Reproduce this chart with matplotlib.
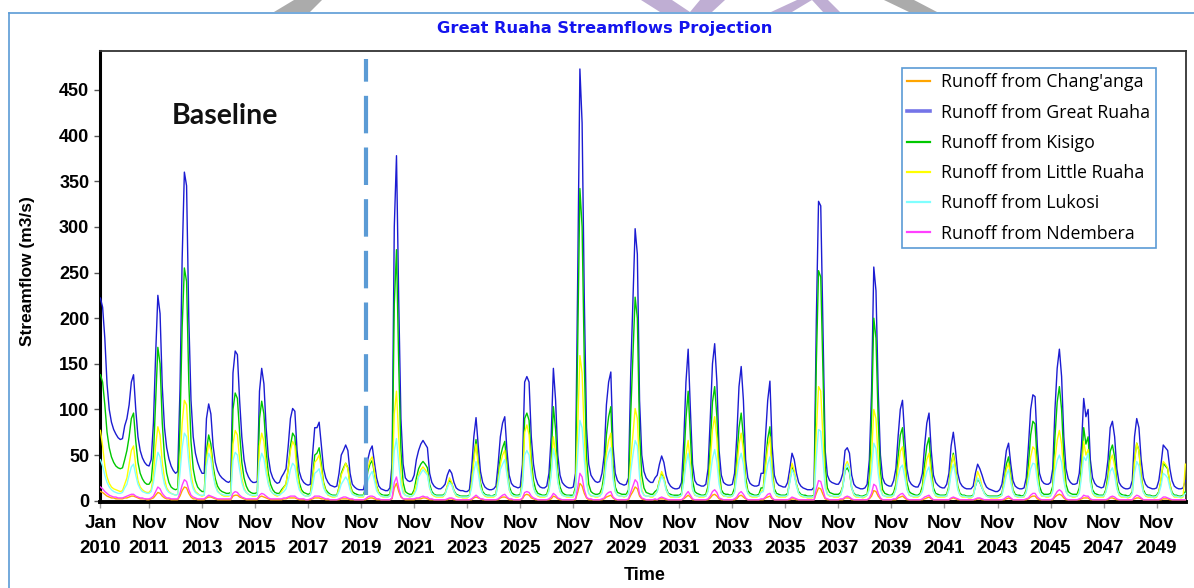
"""
Great Ruaha streamflow projection, monthly runoff per sub-catchment 2010-2050.
"""

import matplotlib
matplotlib.use("Agg")
import matplotlib.pyplot as plt
from matplotlib.patches import Polygon
import numpy as np


# ── Data (m3/s, one row per year, Jan..Dec) ───────────────────────────────────

YEARS = list(range(2010, 2051))

great_ruaha = [
    [222, 212, 178, 128, 100, 86, 78, 73, 69, 67, 68, 82],      # 2010
    [90, 105, 130, 138, 100, 70, 55, 47, 42, 39, 38, 45],
    [85, 160, 225, 205, 125, 80, 58, 46, 38, 33, 30, 32],
    [120, 265, 360, 345, 200, 110, 70, 52, 42, 35, 30, 30],
    [90, 106, 95, 60, 42, 33, 28, 25, 23, 21, 20, 22],
    [140, 164, 160, 110, 70, 45, 32, 26, 22, 20, 20, 21],       # 2015
    [120, 145, 128, 80, 48, 32, 25, 21, 19, 20, 26, 30],
    [35, 60, 90, 101, 98, 55, 32, 24, 20, 18, 17, 18],
    [50, 80, 80, 86, 60, 35, 25, 20, 17, 16, 15, 16],
    [30, 50, 55, 61, 55, 30, 18, 15, 13, 12, 12, 12],
    [22, 45, 55, 60, 42, 25, 16, 13, 12, 11, 11, 14],           # 2020
    [40, 300, 378, 220, 90, 40, 25, 22, 21, 22, 28, 45],
    [55, 62, 66, 62, 58, 30, 20, 16, 14, 13, 13, 15],
    [18, 28, 34, 30, 20, 14, 12, 11, 11, 10, 10, 12],
    [35, 70, 91, 60, 32, 20, 15, 13, 12, 12, 13, 16],
    [40, 70, 85, 92, 55, 28, 19, 16, 15, 14, 15, 40],           # 2025
    [130, 136, 130, 70, 40, 25, 18, 15, 14, 14, 16, 30],
    [70, 145, 110, 50, 28, 20, 17, 15, 14, 14, 15, 30],
    [242, 473, 414, 220, 80, 40, 28, 24, 21, 20, 21, 30],
    [50, 105, 130, 141, 60, 30, 22, 19, 18, 17, 18, 25],
    [140, 220, 298, 270, 110, 50, 32, 25, 22, 20, 20, 25],      # 2030
    [28, 40, 49, 42, 28, 20, 16, 14, 13, 13, 14, 20],
    [65, 130, 166, 100, 40, 22, 18, 17, 16, 16, 18, 35],
    [90, 150, 172, 130, 55, 28, 20, 18, 17, 17, 18, 30],
    [70, 125, 147, 110, 45, 25, 19, 17, 16, 16, 17, 30],
    [30, 70, 110, 131, 60, 28, 20, 17, 16, 15, 15, 20],         # 2035
    [35, 52, 45, 30, 20, 16, 14, 13, 12, 12, 12, 15],
    [198, 328, 323, 187, 55, 28, 22, 20, 19, 18, 18, 22],
    [30, 55, 58, 52, 28, 18, 15, 14, 13, 13, 14, 18],
    [45, 120, 256, 230, 120, 50, 25, 19, 17, 16, 16, 22],
    [35, 70, 100, 110, 70, 35, 22, 18, 16, 15, 15, 20],         # 2040
    [30, 60, 85, 96, 55, 28, 20, 17, 15, 14, 14, 18],
    [30, 60, 75, 55, 30, 20, 16, 14, 13, 13, 13, 16],
    [30, 40, 35, 28, 20, 15, 13, 12, 11, 10, 10, 12],
    [18, 35, 55, 63, 40, 22, 16, 14, 13, 13, 14, 25],
    [60, 100, 116, 114, 60, 30, 22, 19, 18, 18, 20, 35],        # 2045
    [100, 145, 166, 136, 70, 35, 24, 20, 18, 18, 19, 30],
    [60, 112, 92, 100, 45, 25, 19, 16, 15, 14, 15, 25],
    [45, 80, 87, 70, 35, 20, 16, 14, 13, 13, 14, 22],
    [70, 90, 80, 45, 25, 18, 15, 14, 13, 13, 14, 22],
    [40, 61, 58, 55, 35, 22, 16, 14, 13, 13, 14, 22],           # 2050
]

kisigo = [
    [138, 130, 105, 75, 58, 48, 42, 38, 36, 35, 36, 45],
    [55, 70, 90, 96, 65, 42, 30, 24, 20, 18, 18, 22],
    [50, 110, 168, 150, 85, 48, 30, 20, 15, 13, 12, 13],
    [80, 190, 255, 240, 130, 65, 35, 22, 15, 12, 10, 10],
    [55, 72, 62, 38, 24, 16, 12, 10, 9, 8, 8, 9],
    [100, 118, 112, 75, 42, 25, 16, 11, 9, 8, 8, 9],
    [90, 109, 95, 55, 30, 18, 12, 9, 8, 8, 12, 15],
    [18, 35, 60, 74, 70, 38, 20, 12, 9, 8, 7, 8],
    [25, 50, 52, 58, 40, 20, 12, 9, 7, 6, 6, 6],
    [15, 30, 36, 41, 36, 18, 10, 8, 7, 6, 6, 6],
    [14, 32, 40, 44, 30, 16, 9, 7, 6, 6, 6, 7],
    [25, 215, 275, 150, 55, 20, 10, 8, 7, 7, 12, 25],
    [35, 40, 43, 40, 36, 18, 10, 7, 6, 6, 6, 6],
    [8, 16, 22, 19, 11, 7, 6, 5, 5, 5, 5, 6],
    [20, 48, 67, 42, 20, 10, 7, 6, 6, 5, 6, 7],
    [25, 48, 58, 65, 38, 16, 9, 7, 6, 6, 7, 22],
    [90, 96, 88, 45, 22, 12, 8, 7, 6, 6, 7, 15],
    [45, 103, 78, 32, 15, 9, 7, 6, 6, 6, 6, 15],
    [170, 342, 300, 150, 48, 18, 10, 8, 7, 7, 8, 14],
    [30, 72, 92, 103, 40, 15, 9, 8, 7, 7, 7, 12],
    [95, 160, 223, 200, 75, 28, 14, 9, 8, 7, 7, 10],
    [12, 22, 30, 25, 14, 8, 7, 6, 6, 6, 6, 8],
    [40, 90, 120, 70, 22, 10, 8, 7, 6, 6, 7, 16],
    [60, 108, 125, 92, 35, 12, 8, 7, 7, 6, 7, 14],
    [45, 80, 96, 70, 26, 11, 8, 7, 6, 6, 7, 14],
    [14, 42, 68, 81, 36, 13, 8, 7, 6, 6, 6, 8],
    [22, 37, 30, 18, 10, 7, 6, 6, 5, 5, 5, 6],
    [150, 252, 245, 140, 38, 14, 9, 8, 7, 7, 7, 9],
    [16, 33, 36, 31, 14, 8, 6, 6, 5, 5, 6, 7],
    [25, 90, 200, 178, 88, 32, 12, 8, 7, 6, 6, 9],
    [18, 48, 72, 80, 48, 20, 10, 8, 7, 6, 6, 8],
    [16, 40, 60, 69, 36, 14, 8, 7, 6, 6, 6, 7],
    [16, 40, 52, 36, 16, 8, 6, 6, 5, 5, 5, 6],
    [16, 24, 20, 14, 9, 6, 5, 5, 5, 5, 5, 6],
    [8, 22, 40, 48, 28, 12, 7, 6, 6, 5, 6, 12],
    [40, 72, 87, 84, 40, 16, 9, 7, 7, 7, 8, 16],
    [70, 108, 125, 100, 48, 18, 10, 8, 7, 7, 7, 14],
    [38, 80, 62, 70, 28, 12, 8, 7, 6, 6, 6, 12],
    [28, 54, 61, 48, 20, 9, 7, 6, 6, 5, 6, 10],
    [45, 63, 55, 28, 12, 7, 6, 6, 5, 5, 6, 10],
    [22, 41, 38, 35, 18, 9, 6, 6, 5, 5, 6, 10],
]

little_ruaha = [
    [77, 60, 38, 26, 19, 15, 13, 12, 11, 10, 11, 18],
    [25, 40, 55, 60, 38, 22, 15, 12, 10, 9, 9, 12],
    [28, 60, 81, 72, 42, 24, 14, 10, 8, 7, 6, 7],
    [40, 85, 110, 105, 60, 30, 16, 10, 8, 6, 5, 6],
    [45, 63, 55, 32, 18, 11, 8, 6, 5, 5, 5, 6],
    [62, 77, 72, 45, 25, 14, 9, 7, 6, 5, 5, 6],
    [60, 74, 65, 38, 20, 11, 8, 6, 5, 6, 10, 14],
    [18, 35, 55, 65, 60, 30, 15, 9, 6, 5, 5, 6],
    [22, 42, 45, 50, 35, 18, 10, 6, 5, 4, 4, 5],
    [14, 28, 34, 41, 35, 16, 8, 6, 5, 4, 4, 4],
    [12, 35, 44, 48, 32, 15, 8, 5, 4, 4, 4, 5],
    [18, 95, 120, 70, 28, 10, 6, 5, 4, 5, 9, 18],
    [28, 34, 37, 34, 30, 14, 7, 5, 4, 4, 4, 4],
    [7, 17, 25, 20, 10, 5, 4, 4, 3, 3, 3, 5],
    [18, 44, 62, 38, 16, 8, 5, 4, 4, 4, 4, 6],
    [22, 40, 50, 55, 32, 12, 6, 5, 4, 4, 5, 20],
    [75, 83, 72, 35, 15, 8, 5, 4, 4, 4, 5, 12],
    [30, 70, 52, 22, 10, 6, 5, 4, 4, 4, 4, 12],
    [80, 159, 140, 70, 22, 8, 5, 5, 4, 4, 5, 10],
    [22, 52, 66, 74, 28, 10, 6, 5, 5, 4, 5, 9],
    [45, 72, 101, 90, 35, 12, 6, 5, 5, 4, 4, 7],
    [10, 22, 32, 26, 12, 6, 4, 4, 4, 4, 4, 6],
    [22, 50, 66, 40, 12, 6, 5, 4, 4, 4, 5, 12],
    [42, 78, 92, 68, 24, 8, 5, 5, 4, 4, 5, 10],
    [35, 62, 74, 55, 20, 8, 5, 4, 4, 4, 5, 10],
    [12, 36, 58, 70, 30, 10, 5, 4, 4, 4, 4, 6],
    [24, 41, 33, 18, 8, 5, 4, 4, 3, 3, 3, 5],
    [75, 125, 120, 68, 18, 7, 5, 5, 4, 4, 4, 6],
    [16, 38, 43, 36, 14, 6, 4, 4, 4, 3, 4, 6],
    [15, 48, 100, 90, 45, 16, 6, 5, 4, 4, 4, 6],
    [14, 36, 54, 59, 36, 14, 6, 5, 4, 4, 4, 6],
    [12, 30, 45, 52, 28, 10, 5, 4, 4, 4, 4, 5],
    [14, 38, 50, 34, 14, 6, 4, 4, 4, 3, 3, 5],
    [20, 32, 26, 16, 8, 5, 4, 3, 3, 3, 3, 4],
    [6, 20, 34, 41, 24, 10, 5, 4, 4, 4, 4, 10],
    [28, 48, 59, 56, 28, 10, 5, 5, 4, 4, 5, 12],
    [45, 66, 77, 62, 30, 10, 6, 5, 4, 4, 5, 10],
    [30, 65, 50, 56, 22, 8, 5, 4, 4, 4, 4, 10],
    [22, 44, 50, 38, 15, 6, 4, 4, 4, 3, 4, 8],
    [42, 63, 54, 26, 10, 5, 4, 4, 4, 3, 4, 9],
    [24, 43, 40, 36, 18, 7, 4, 4, 4, 3, 4, 40],
]

lukosi = [
    [45, 38, 28, 20, 15, 12, 10, 9, 8, 8, 9, 14],
    [18, 28, 37, 40, 28, 18, 13, 10, 9, 8, 8, 10],
    [20, 38, 53, 48, 30, 18, 12, 9, 8, 7, 6, 7],
    [30, 58, 74, 70, 42, 22, 13, 9, 7, 6, 6, 6],
    [38, 52, 46, 28, 16, 10, 8, 7, 6, 6, 6, 6],
    [44, 53, 50, 34, 20, 12, 9, 7, 6, 6, 6, 6],
    [42, 52, 46, 30, 18, 11, 8, 7, 6, 6, 8, 10],
    [13, 22, 34, 41, 38, 22, 12, 8, 6, 5, 5, 6],
    [15, 30, 32, 35, 25, 14, 9, 7, 6, 5, 5, 5],
    [10, 18, 22, 26, 22, 12, 7, 6, 5, 5, 5, 5],
    [9, 22, 28, 32, 22, 11, 7, 5, 5, 4, 4, 5],
    [14, 55, 68, 42, 18, 8, 6, 5, 5, 5, 7, 12],
    [26, 30, 34, 31, 28, 14, 8, 6, 5, 5, 5, 5],
    [7, 14, 20, 17, 10, 6, 5, 4, 4, 4, 4, 5],
    [14, 32, 43, 30, 14, 8, 6, 5, 5, 5, 5, 6],
    [18, 34, 40, 45, 28, 12, 7, 5, 5, 5, 5, 16],
    [50, 55, 50, 28, 14, 8, 6, 5, 5, 5, 5, 10],
    [28, 57, 44, 20, 10, 6, 5, 5, 5, 4, 5, 10],
    [50, 88, 80, 45, 18, 8, 6, 5, 5, 5, 5, 8],
    [20, 42, 52, 58, 24, 10, 6, 5, 5, 5, 5, 8],
    [32, 50, 66, 60, 26, 10, 6, 5, 5, 5, 5, 6],
    [10, 19, 27, 22, 12, 7, 5, 5, 4, 4, 5, 6],
    [20, 40, 52, 34, 12, 7, 5, 5, 5, 5, 5, 10],
    [28, 46, 56, 42, 18, 8, 6, 5, 5, 5, 5, 9],
    [26, 44, 52, 40, 16, 8, 6, 5, 5, 5, 5, 9],
    [10, 26, 40, 48, 22, 9, 6, 5, 5, 5, 5, 6],
    [20, 34, 28, 16, 8, 6, 5, 4, 4, 4, 4, 5],
    [48, 78, 76, 45, 14, 7, 6, 5, 5, 5, 5, 6],
    [14, 34, 40, 34, 14, 7, 5, 5, 4, 4, 5, 6],
    [12, 32, 63, 57, 30, 12, 6, 5, 5, 5, 5, 6],
    [12, 26, 36, 39, 26, 12, 7, 5, 5, 5, 5, 6],
    [10, 22, 32, 37, 22, 10, 6, 5, 5, 5, 5, 5],
    [12, 30, 40, 28, 12, 6, 5, 5, 4, 4, 4, 5],
    [16, 25, 21, 14, 8, 5, 4, 4, 4, 4, 4, 5],
    [6, 16, 28, 34, 20, 9, 5, 5, 4, 4, 5, 9],
    [22, 35, 41, 40, 22, 10, 6, 5, 5, 5, 5, 10],
    [32, 44, 50, 42, 22, 10, 6, 5, 5, 5, 5, 8],
    [26, 48, 44, 52, 20, 9, 6, 5, 5, 5, 5, 9],
    [18, 32, 36, 28, 13, 7, 5, 5, 4, 4, 5, 8],
    [30, 43, 38, 20, 9, 6, 5, 5, 4, 4, 5, 8],
    [16, 30, 28, 25, 14, 7, 5, 5, 4, 4, 5, 8],
]

ndembera = [
    [15, 13, 10, 8, 6, 5, 4, 4, 3, 3, 3, 4],
    [5, 6, 7, 7, 5, 4, 3, 3, 2, 2, 2, 3],
    [5, 10, 15, 13, 8, 5, 3, 3, 2, 2, 2, 2],
    [8, 17, 23, 21, 12, 6, 4, 3, 2, 2, 2, 2],
    [4, 6, 5, 4, 3, 2, 2, 2, 2, 2, 2, 2],
    [8, 10, 9, 6, 4, 3, 2, 2, 2, 2, 2, 2],
    [6, 8, 7, 5, 3, 2, 2, 2, 2, 2, 2, 3],
    [3, 4, 5, 5, 5, 3, 2, 2, 2, 1, 1, 2],
    [3, 5, 5, 5, 4, 3, 2, 2, 1, 1, 1, 1],
    [2, 3, 4, 4, 3, 2, 2, 1, 1, 1, 1, 1],
    [2, 4, 5, 5, 4, 2, 2, 1, 1, 1, 1, 1],
    [3, 20, 26, 14, 5, 2, 2, 2, 2, 2, 2, 3],
    [3, 4, 5, 4, 4, 2, 2, 1, 1, 1, 1, 1],
    [1, 2, 3, 3, 2, 1, 1, 1, 1, 1, 1, 1],
    [2, 4, 6, 4, 2, 2, 1, 1, 1, 1, 1, 1],
    [2, 4, 6, 7, 4, 2, 2, 1, 1, 1, 1, 3],
    [9, 10, 9, 5, 3, 2, 1, 1, 1, 1, 1, 2],
    [4, 8, 6, 3, 2, 1, 1, 1, 1, 1, 1, 2],
    [14, 30, 26, 12, 4, 2, 2, 1, 1, 1, 1, 2],
    [3, 7, 9, 10, 4, 2, 1, 1, 1, 1, 1, 2],
    [9, 16, 23, 20, 7, 3, 2, 1, 1, 1, 1, 2],
    [1, 3, 4, 3, 2, 1, 1, 1, 1, 1, 1, 1],
    [3, 7, 10, 6, 2, 1, 1, 1, 1, 1, 1, 2],
    [5, 10, 12, 9, 3, 2, 1, 1, 1, 1, 1, 2],
    [4, 8, 10, 7, 3, 1, 1, 1, 1, 1, 1, 2],
    [2, 4, 7, 8, 3, 1, 1, 1, 1, 1, 1, 1],
    [2, 4, 3, 2, 1, 1, 1, 1, 1, 1, 1, 1],
    [13, 22, 21, 12, 3, 2, 1, 1, 1, 1, 1, 2],
    [2, 4, 5, 4, 2, 1, 1, 1, 1, 1, 1, 1],
    [3, 8, 18, 16, 8, 3, 1, 1, 1, 1, 1, 2],
    [2, 5, 7, 8, 5, 2, 1, 1, 1, 1, 1, 1],
    [2, 4, 5, 6, 3, 1, 1, 1, 1, 1, 1, 1],
    [1, 3, 4, 3, 2, 1, 1, 1, 1, 1, 1, 1],
    [2, 3, 3, 2, 1, 1, 1, 1, 1, 1, 1, 1],
    [1, 2, 4, 5, 3, 1, 1, 1, 1, 1, 1, 2],
    [3, 6, 8, 8, 4, 2, 1, 1, 1, 1, 1, 2],
    [6, 10, 12, 10, 5, 2, 1, 1, 1, 1, 1, 2],
    [3, 6, 5, 5, 2, 1, 1, 1, 1, 1, 1, 1],
    [2, 4, 5, 4, 2, 1, 1, 1, 1, 1, 1, 1],
    [4, 6, 5, 3, 1, 1, 1, 1, 1, 1, 1, 1],
    [2, 4, 4, 3, 2, 1, 1, 1, 1, 1, 1, 1],
]

changanga = [
    [10, 9, 7, 5, 4, 3, 3, 2, 2, 2, 2, 3],
    [3, 4, 5, 5, 4, 3, 2, 2, 2, 1, 1, 2],
    [3, 6, 9, 8, 5, 3, 2, 2, 1, 1, 1, 1],
    [5, 11, 15, 14, 8, 4, 2, 2, 1, 1, 1, 1],
    [3, 4, 4, 3, 2, 1, 1, 1, 1, 1, 1, 1],
    [5, 6, 6, 4, 3, 2, 1, 1, 1, 1, 1, 1],
    [4, 5, 4, 3, 2, 1, 1, 1, 1, 1, 1, 2],
    [2, 3, 3, 3, 3, 2, 1, 1, 1, 1, 1, 1],
    [2, 3, 3, 3, 2, 2, 1, 1, 1, 1, 1, 1],
    [1, 2, 2, 2, 2, 1, 1, 1, 1, 1, 1, 1],
    [1, 2, 3, 3, 2, 1, 1, 1, 1, 1, 1, 1],
    [2, 14, 19, 10, 4, 2, 1, 1, 1, 1, 1, 2],
    [2, 2, 3, 3, 2, 1, 1, 1, 1, 1, 1, 1],
    [1, 1, 2, 2, 1, 1, 1, 1, 1, 1, 1, 1],
    [1, 3, 4, 3, 2, 1, 1, 1, 1, 1, 1, 1],
    [1, 3, 4, 4, 3, 1, 1, 1, 1, 1, 1, 2],
    [6, 7, 6, 3, 2, 1, 1, 1, 1, 1, 1, 1],
    [2, 5, 4, 2, 1, 1, 1, 1, 1, 1, 1, 1],
    [9, 19, 16, 8, 3, 1, 1, 1, 1, 1, 1, 1],
    [2, 4, 5, 6, 3, 1, 1, 1, 1, 1, 1, 1],
    [6, 10, 15, 13, 5, 2, 1, 1, 1, 1, 1, 1],
    [1, 2, 2, 2, 1, 1, 1, 1, 1, 1, 1, 1],
    [2, 4, 6, 4, 1, 1, 1, 1, 1, 1, 1, 1],
    [3, 6, 7, 5, 2, 1, 1, 1, 1, 1, 1, 1],
    [2, 5, 6, 4, 2, 1, 1, 1, 1, 1, 1, 1],
    [1, 3, 4, 5, 2, 1, 1, 1, 1, 1, 1, 1],
    [1, 2, 2, 1, 1, 1, 1, 1, 1, 1, 1, 1],
    [8, 14, 13, 7, 2, 1, 1, 1, 1, 1, 1, 1],
    [1, 3, 3, 3, 1, 1, 1, 1, 1, 1, 1, 1],
    [2, 5, 11, 10, 5, 2, 1, 1, 1, 1, 1, 1],
    [1, 3, 4, 5, 3, 1, 1, 1, 1, 1, 1, 1],
    [1, 2, 3, 4, 2, 1, 1, 1, 1, 1, 1, 1],
    [1, 2, 3, 2, 1, 1, 1, 1, 1, 1, 1, 1],
    [1, 2, 2, 1, 1, 1, 1, 1, 1, 1, 1, 1],
    [1, 1, 2, 3, 2, 1, 1, 1, 1, 1, 1, 1],
    [2, 4, 5, 5, 2, 1, 1, 1, 1, 1, 1, 1],
    [4, 6, 7, 6, 3, 1, 1, 1, 1, 1, 1, 1],
    [2, 3, 3, 3, 1, 1, 1, 1, 1, 1, 1, 1],
    [1, 3, 3, 2, 1, 1, 1, 1, 1, 1, 1, 1],
    [2, 3, 3, 2, 1, 1, 1, 1, 1, 1, 1, 1],
    [1, 2, 2, 2, 1, 1, 1, 1, 1, 1, 1, 1],
]

SERIES = [
    ("Runoff from Chang'anga",   changanga,    "#FFA500"),
    ("Runoff from Great Ruaha",  great_ruaha,  "#1C1CD2"),
    ("Runoff from Kisigo",       kisigo,       "#00C800"),
    ("Runoff from Little Ruaha", little_ruaha, "#FFFF00"),
    ("Runoff from Lukosi",       lukosi,       "#7FFFFF"),
    ("Runoff from Ndembera",     ndembera,     "#FF40FF"),
]

# x tick labels: Jan 2010, then every second November
tick_months = [0] + [22 + 24 * k for k in range(20)]
tick_labels = ["Jan\n2010"] + [f"Nov\n{2011 + 2 * k}" for k in range(20)]

BASELINE_END = 120          # Jan 2020, start of projection
W, H = 1194, 588
EDGE = "#5B9BD5"


def px(x, y):
    """pixel coords (top-left origin) -> figure fraction"""
    return x / W, 1 - y / H


# ── Plot ──────────────────────────────────────────────────────────────────────

def main():
    fig = plt.figure(figsize=(W / 100, H / 100), dpi=100)
    fig.patch.set_facecolor("white")

    left, top = px(100.4, 51)
    right, bottom = px(1186, 501.5)
    ax = fig.add_axes([left, bottom, right - left, top - bottom])

    months = np.arange(len(YEARS) * 12)
    for label, rows, color in SERIES:
        vals = np.concatenate([np.asarray(r, dtype=float) for r in rows])
        ax.plot(months, vals, color=color, lw=1.0, label=label, zorder=3)

    # baseline / projection divider
    ax.plot([BASELINE_END, BASELINE_END], [6, 484], color=EDGE, lw=3.0,
            dashes=(9.0, 3.4), solid_capstyle="butt", dash_capstyle="butt", zorder=4)
    ax.text(32.4, 421.5, "Baseline", fontsize=20.5, fontweight="bold",
            family=["Lato", "DejaVu Sans"], ha="left", va="center", color="#111111")

    ax.set_xlim(0, 491.3)
    ax.set_ylim(-0.9, 492.7)
    ax.set_yticks(range(0, 451, 50))
    ax.set_xticks(tick_months)
    ax.set_xticklabels(tick_labels, linespacing=1.55)
    for t in ax.get_yticklabels():
        t.set_fontfamily(["Liberation Sans", "DejaVu Sans"])
        t.set_fontweight("bold"); t.set_fontsize(13)
    for t in ax.get_xticklabels():
        t.set_fontfamily(["Liberation Sans Narrow", "Liberation Sans", "DejaVu Sans"])
        t.set_fontweight("bold"); t.set_fontsize(13.5)
    ax.tick_params(axis="y", length=4, width=1, color="#555555", pad=4)
    ax.tick_params(axis="x", length=4, width=1, color="#999999", pad=6)

    ax.spines["left"].set_linewidth(2.2)
    ax.spines["bottom"].set_linewidth(2.8)
    for s in ("top", "right"):
        ax.spines[s].set_linewidth(1.3); ax.spines[s].set_color("#333333")

    leg = ax.legend(loc="upper left", bbox_to_anchor=(0.7384, 0.9623), borderaxespad=0,
                    frameon=True, fancybox=False, framealpha=1, edgecolor=EDGE,
                    prop={"family": ["Open Sans", "DejaVu Sans"], "size": 12.8},
                    handlelength=1.3, handletextpad=0.62, labelspacing=0.69,
                    borderpad=0.3)
    leg.get_frame().set_linewidth(1.2)
    for ln in leg.get_lines():
        ln.set_linewidth(1.6)
    # the Great Ruaha swatch is drawn lighter and thicker in the original
    leg.get_lines()[1].set_color("#7474E8")
    leg.get_lines()[1].set_linewidth(2.6)

    # titles / labels placed in figure pixels
    fig.text(*px(605, 29), "Great Ruaha Streamflows Projection", ha="center", va="center",
             color="#1414EE", fontsize=11.7, fontweight="bold", family="DejaVu Sans")
    fig.text(*px(28, 271), "Streamflow (m3/s)", rotation=90, ha="center", va="center",
             fontsize=12.5, fontweight="bold", family=["Liberation Sans", "DejaVu Sans"])
    fig.text(*px(645, 576), "Time", ha="center", va="center",
             fontsize=13, fontweight="bold", family=["Liberation Sans", "DejaVu Sans"])

    # outer frame of the pasted chart
    fig.add_artist(plt.Line2D([px(9, 0)[0]] * 2, [px(0, 12.7)[1], 0],
                              color=EDGE, lw=1.2, transform=fig.transFigure))
    fig.add_artist(plt.Line2D([px(9, 0)[0], 1], [px(0, 12.7)[1]] * 2,
                              color=EDGE, lw=1.2, transform=fig.transFigure))

    # watermark fragments above the frame
    shapes = [
        ("#ABABAB", [(274, 12), (310, 12), (322, 0), (294, 0)]),
        ("#BFAED3", [(660, 12), (690, 12), (672, 0), (641, 0)]),
        ("#BFAED3", [(690, 12), (712, 12), (725, 0), (700, 0)]),
        ("#BFAED3", [(771, 12), (792, 12), (812, 0), (797, 0)]),
        ("#BFAED3", [(823, 12), (840, 12), (828, 0), (812, 0)]),
        ("#ABABAB", [(909, 12), (937, 12), (914, 0), (884, 0)]),
    ]
    for color, pts in shapes:
        fig.add_artist(Polygon([px(x, y) for x, y in pts], closed=True, facecolor=color,
                               edgecolor="none", transform=fig.transFigure))

    fig.savefig("out.png", dpi=100)
    plt.close(fig)


if __name__ == "__main__":
    main()
